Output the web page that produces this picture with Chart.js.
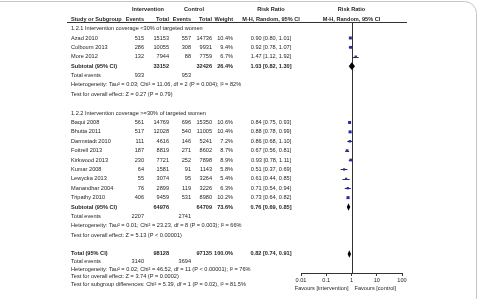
<!DOCTYPE html>
<html>
<head>
<meta charset="utf-8">
<script src="https://cdn.jsdelivr.net/npm/chart.js@4.4.0/dist/chart.umd.min.js"></script>
<style>
	html, body { margin: 0; padding: 0; background: #ffffff; }
	canvas { display: block; }
</style>
</head>
<body>
<canvas id="forest" width="477" height="299"></canvas>
<script>
// study level data
const studies = ['Azad 2010', 'Colbourn 2013', 'More 2012', 'Baqui 2008', 'Bhutta 2011', 'Darmstadt 2010', 'Fottrell 2013', 'Kirkwood 2013', 'Kumar 2008', 'Lewycka 2013', 'Manandhar 2004', 'Tripathy 2010']
const studyGroup = [0, 0, 0, 1, 1, 1, 1, 1, 1, 1, 1, 1]
const eventsInt = [515, 286, 132, 561, 517, 111, 187, 230, 64, 55, 76, 406]
const totalInt = [15153, 10055, 7944, 14769, 12028, 4616, 8819, 7721, 1581, 3074, 2899, 9459]
const eventsCtl = [557, 308, 88, 696, 540, 146, 271, 252, 91, 95, 119, 531]
const totalCtl = [14736, 9931, 7759, 15350, 11005, 5241, 8602, 7898, 1143, 3264, 3226, 8980]
const weights = [10.4, 9.4, 6.7, 10.6, 10.4, 7.2, 8.7, 8.9, 5.8, 5.4, 6.3, 10.2]
const riskRatio = [0.90, 0.92, 1.47, 0.84, 0.88, 0.86, 0.67, 0.93, 0.51, 0.61, 0.71, 0.73]
const ciLow = [0.80, 0.78, 1.12, 0.75, 0.78, 0.68, 0.56, 0.78, 0.37, 0.44, 0.54, 0.64]
const ciHigh = [1.01, 1.07, 1.92, 0.93, 0.99, 1.10, 0.81, 1.11, 0.69, 0.85, 0.94, 0.82]

// subgroups
const groupTitles = ['1.2.1 Intervention coverage <30% of targeted women', '1.2.2 Intervention coverage >=30% of targeted women']
const subTotalInt = [33152, 64976]
const subTotalCtl = [32426, 64709]
const subEventsInt = [933, 2207]
const subEventsCtl = [953, 2741]
const subWeight = [26.4, 73.6]
const subRR = [1.03, 0.76]
const subLow = [0.82, 0.69]
const subHigh = [1.30, 0.85]
const subHet = ['Tau² = 0.03; Chi² = 11.06, df = 2 (P = 0.004); I² = 82%', 'Tau² = 0.01; Chi² = 23.23, df = 8 (P = 0.003); I² = 66%']
const subTest = ['Z = 0.27 (P = 0.79)', 'Z = 5.13 (P < 0.00001)']

// overall
const allTotals = [98128, 97135]
const allEvents = [3140, 3694]
const allWeight = 100.0
const allRR = [0.82, 0.74, 0.91]
const allHet = 'Tau² = 0.02; Chi² = 46.52, df = 11 (P < 0.00001); I² = 76%'
const allTest = 'Z = 3.74 (P = 0.0002)'
const subgroupTest = 'Chi² = 5.39, df = 1 (P = 0.02), I² = 81.5%'

// axis
const xTicks = [0.01, 0.1, 1, 10, 100]
const xTickLabels = ['0.01', '0.1', '1', '10', '100']
const favours = ['Favours [intervention]', 'Favours [control]']

// layout: one row unit per table line
const col = { label: 71, evI: 144, totI: 169, evC: 191, totC: 212, wt: 233, ci: 271 }
const font = '"Liberation Sans", Arial, sans-serif'
const fs = 5.6
const textColor = '#262626'
const boxColor = '#2d2d9a'

let row = 0
const studyRow = []
const groupRows = []
groupTitles.forEach((t, g) => {
	const r = { title: ++row }
	studies.forEach((s, i) => {
		if (studyGroup[i] === g) studyRow[i] = ++row
	})
	r.subtotal = ++row
	r.events = ++row
	r.het = ++row
	r.test = ++row
	row++
	groupRows.push(r)
})
const totalRow = ++row
const footRows = [totalRow + 0.82, totalRow + 1.64, totalRow + 2.4, totalRow + 3.22]

const fmt = (v) => v.toFixed(2)
const ciText = (m, l, h) => `${fmt(m)} [${fmt(l)}, ${fmt(h)}]`

const forestPlugin = {
	id: 'forest',
	beforeDatasetsDraw(chart) {
		const { ctx, scales: { x, y } } = chart
		ctx.save()
		// line of no effect
		const x1 = Math.round(x.getPixelForValue(1)) + 0.5
		ctx.strokeStyle = '#333333'
		ctx.lineWidth = 1
		ctx.beginPath()
		ctx.moveTo(x1, chart.chartArea.top)
		ctx.lineTo(x1, chart.chartArea.bottom)
		ctx.stroke()
		// confidence intervals
		ctx.strokeStyle = '#27276e'
		studies.forEach((s, i) => {
			const py = Math.round(y.getPixelForValue(studyRow[i])) + 0.5
			ctx.beginPath()
			ctx.moveTo(x.getPixelForValue(ciLow[i]), py)
			ctx.lineTo(x.getPixelForValue(ciHigh[i]), py)
			ctx.stroke()
		})
		ctx.restore()
	},
	afterDatasetsDraw(chart) {
		const { ctx, scales: { x, y } } = chart
		ctx.save()

		// border of the figure
		ctx.strokeStyle = '#c4c4c4'
		ctx.lineWidth = 1
		ctx.beginPath()
		ctx.moveTo(-2, 1.5)
		ctx.lineTo(464, 1.5)
		ctx.arcTo(476.5, 1.5, 476.5, 14, 12)
		ctx.lineTo(476.5, 300)
		ctx.stroke()

		// diamonds
		const diamond = (m, l, h, r) => {
			const py = y.getPixelForValue(r)
			ctx.fillStyle = '#000000'
			ctx.beginPath()
			ctx.moveTo(x.getPixelForValue(l) - 0.6, py)
			ctx.lineTo(x.getPixelForValue(m), py - 3.8)
			ctx.lineTo(x.getPixelForValue(h) + 0.6, py)
			ctx.lineTo(x.getPixelForValue(m), py + 3.8)
			ctx.closePath()
			ctx.fill()
		}
		groupRows.forEach((r, g) => diamond(subRR[g], subLow[g], subHigh[g], r.subtotal))
		diamond(allRR[0], allRR[1], allRR[2], totalRow)

		// header rule
		const hy = chart.chartArea.top + 0.5
		ctx.strokeStyle = '#333333'
		ctx.beginPath()
		ctx.moveTo(67, hy)
		ctx.lineTo(chart.chartArea.right + 5, hy)
		ctx.stroke()

		// text
		ctx.fillStyle = textColor
		ctx.textBaseline = 'middle'
		const txt = (s, px, r, align, bold) => {
			ctx.font = `${bold ? 'bold ' : ''}${fs}px ${font}`
			ctx.textAlign = align || 'left'
			ctx.fillText(s, px, y.getPixelForValue(r))
		}
		const xOne = x.getPixelForValue(1)

		txt('Intervention', 148, -1, 'center', true)
		txt('Control', 194, -1, 'center', true)
		txt('Risk Ratio', col.ci, -1, 'center', true)
		txt('Risk Ratio', xOne, -1, 'center', true)
		txt('Study or Subgroup', col.label, 0, 'left', true)
		txt('Events', col.evI, 0, 'right', true)
		txt('Total', col.totI, 0, 'right', true)
		txt('Events', col.evC, 0, 'right', true)
		txt('Total', col.totC, 0, 'right', true)
		txt('Weight', col.wt, 0, 'right', true)
		txt('M-H, Random, 95% CI', col.ci, 0, 'center', true)
		txt('M-H, Random, 95% CI', xOne, 0, 'center', true)

		groupRows.forEach((r, g) => {
			txt(groupTitles[g], col.label, r.title)
			txt('Subtotal (95% CI)', col.label, r.subtotal, 'left', true)
			txt(String(subTotalInt[g]), col.totI, r.subtotal, 'right', true)
			txt(String(subTotalCtl[g]), col.totC, r.subtotal, 'right', true)
			txt(subWeight[g].toFixed(1) + '%', col.wt, r.subtotal, 'right', true)
			txt(ciText(subRR[g], subLow[g], subHigh[g]), col.ci, r.subtotal, 'center', true)
			txt('Total events', col.label, r.events)
			txt(String(subEventsInt[g]), col.evI, r.events, 'right')
			txt(String(subEventsCtl[g]), col.evC, r.events, 'right')
			txt('Heterogeneity: ' + subHet[g], col.label, r.het)
			txt('Test for overall effect: ' + subTest[g], col.label, r.test)
		})

		studies.forEach((s, i) => {
			const r = studyRow[i]
			txt(s, col.label, r)
			txt(String(eventsInt[i]), col.evI, r, 'right')
			txt(String(totalInt[i]), col.totI, r, 'right')
			txt(String(eventsCtl[i]), col.evC, r, 'right')
			txt(String(totalCtl[i]), col.totC, r, 'right')
			txt(weights[i].toFixed(1) + '%', col.wt, r, 'right')
			txt(ciText(riskRatio[i], ciLow[i], ciHigh[i]), col.ci, r, 'center')
		})

		txt('Total (95% CI)', col.label, totalRow, 'left', true)
		txt(String(allTotals[0]), col.totI, totalRow, 'right', true)
		txt(String(allTotals[1]), col.totC, totalRow, 'right', true)
		txt(allWeight.toFixed(1) + '%', col.wt, totalRow, 'right', true)
		txt(ciText(allRR[0], allRR[1], allRR[2]), col.ci, totalRow, 'center', true)
		txt('Total events', col.label, footRows[0])
		txt(String(allEvents[0]), col.evI, footRows[0], 'right')
		txt(String(allEvents[1]), col.evC, footRows[0], 'right')
		txt('Heterogeneity: ' + allHet, col.label, footRows[1])
		txt('Test for overall effect: ' + allTest, col.label, footRows[2])
		txt('Test for subgroup differences: ' + subgroupTest, col.label, footRows[3])

		// favours labels under the axis
		ctx.font = `${fs}px ${font}`
		ctx.textAlign = 'right'
		ctx.fillText(favours[0], xOne - 3, 288)
		ctx.textAlign = 'left'
		ctx.fillText(favours[1], xOne + 3, 288)

		ctx.restore()
	}
}

new Chart(document.getElementById('forest'), {
	type: 'scatter',
	data: {
		datasets: [
			{
				data: studies.map((s, i) => ({ x: riskRatio[i], y: studyRow[i] })),
				pointStyle: 'rect',
				pointRadius: weights.map((w) => Math.sqrt(w) * 0.66),
				backgroundColor: boxColor,
				borderWidth: 0
			}
		]
	},
	options: {
		responsive: false,
		animation: false,
		devicePixelRatio: 1,
		layout: { padding: { left: 301, right: 75, top: 22, bottom: 0 } },
		plugins: { legend: { display: false }, tooltip: { enabled: false } },
		scales: {
			x: {
				type: 'logarithmic',
				min: 0.01,
				max: 100,
				afterBuildTicks: (scale) => {
					scale.ticks = xTicks.map((v) => ({ value: v }))
				},
				afterFit: (scale) => {
					scale.height = 26
				},
				ticks: {
					autoSkip: false,
					maxRotation: 0,
					padding: 1,
					color: textColor,
					font: { family: font, size: fs },
					callback: (v) => xTickLabels[xTicks.indexOf(v)]
				},
				grid: { drawOnChartArea: false, tickLength: 3, color: '#333333' },
				border: { color: '#333333', width: 1 }
			},
			y: {
				type: 'linear',
				reverse: true,
				min: 0.3,
				max: 27.03,
				display: false
			}
		}
	},
	plugins: [forestPlugin]
})
</script>
</body>
</html>
